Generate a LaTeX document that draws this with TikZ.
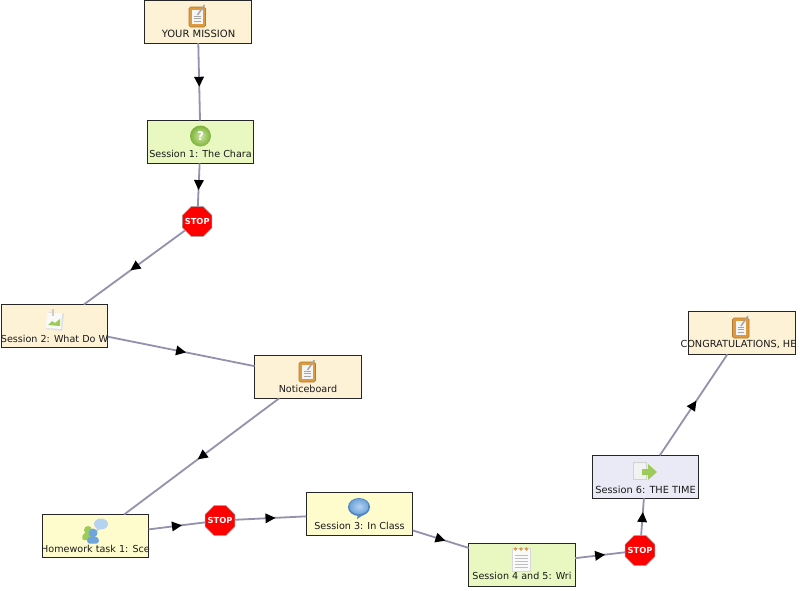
\documentclass[tikz,border=0pt]{standalone}
\usepackage{fontspec}
\setmainfont{DejaVu Sans}
\usetikzlibrary{arrows.meta,decorations.markings,shapes.geometric}
\definecolor{boxorange}{HTML}{FDF2D6}
\definecolor{boxgreen}{HTML}{E8F8C0}
\definecolor{boxyellow}{HTML}{FEFBCD}
\definecolor{boxblue}{HTML}{EAEAF6}
\definecolor{linkc}{HTML}{9292AE}
\definecolor{icorange}{HTML}{DE9A3E}
\definecolor{icbrown}{HTML}{B57A30}
\definecolor{icgreen}{HTML}{9CCB5A}
\definecolor{icgreendk}{HTML}{7DB23C}
\definecolor{icgreenlt}{HTML}{CDE89A}
\definecolor{icblue}{HTML}{6FA5DC}
\definecolor{icbluedk}{HTML}{4F86C0}
\definecolor{icbluelt}{HTML}{B5D3F0}
\tikzset{
 box/.style={draw=black!85,line width=0.8pt,minimum width=106.5pt,minimum height=43pt,inner sep=0pt,outer sep=0pt},
 stopsign/.style={regular polygon,regular polygon sides=8,shape border rotate=0,fill=red,draw=black!40,line width=0.5pt,minimum size=32pt,inner sep=0pt,outer sep=0pt},
 stoptext/.style={text=white,inner sep=0pt,font=\bfseries\fontsize{8.3}{8}\selectfont},
 lab/.style={font=\fontsize{9.6}{11}\selectfont,inner sep=0pt,text=black!90},
 labwide/.style={lab,font=\fontsize{10}{11}\selectfont},
 flow/.style={linkc,line width=1.8pt,postaction={decorate},decoration={markings,mark=at position .5 with {\arrow[black,xshift=5pt]{Triangle[length=10pt,width=9.5pt]}}}},
}
\newcommand{\iconclip}[2]{\begin{scope}[shift={(#1,#2)}]
 \fill[rounded corners=1.5pt,fill=icorange,draw=icbrown,line width=.6pt] (-8.5,-10) rectangle (8,10);
 \fill[white!92!gray] (-5.5,-7) -- (5,-7) -- (5,7) -- (-5.5,7) -- cycle;
 \draw[gray!70,line width=.5pt] (-3.5,-1)--(3,-1) (-3.5,1.5)--(3,1.5) (-3.5,4)--(3,4);
 \draw[gray!70,line width=1.5pt] (0,-2)--(7,-12);
\end{scope}}
\newcommand{\iconq}[2]{\begin{scope}[shift={(#1,#2)}]
 \shade[inner color=icgreenlt,outer color=icgreendk] (0,0) circle (10.5);
 \node[text=white,font=\bfseries\fontsize{12}{12}\selectfont,inner sep=0pt] (qmark) at (0,0) {?};
\end{scope}}
\newcommand{\iconimg}[2]{\begin{scope}[shift={(#1,#2)}]
 \fill[gray!25] (-5,-8) -- (10,-6) -- (8,11) -- (-8,9) -- cycle;
 \fill[white!95!gray] (-7,-7) -- (8,-7) -- (7,9) -- (-8,8) -- cycle;
 \fill[icgreen] (-6,5) -- (-2,1) -- (1,3) -- (6,-1) -- (6,6) -- (-6,5) -- cycle;
 \fill[gray!40] (-2.5,-11) rectangle (0,-4);
\end{scope}}
\newcommand{\iconpeople}[2]{\begin{scope}[shift={(#1,#2)}]
 \fill[icbluelt] (6,-5) ellipse (7 and 5.5);
 \fill[icbluelt] (2,-2) -- (1,3) -- (6,-1) -- cycle;
 \fill[icgreen] (-7,1) circle (4);
 \fill[icgreen,rounded corners=2pt] (-13,11) -- (-12,4) -- (-3,4) -- (-3,11) -- cycle;
 \fill[icblue] (-2,4) circle (4.5);
 \fill[icblue,rounded corners=2.5pt] (-8,14.5) -- (-7.5,8) -- (3.5,8) -- (4,14.5) -- cycle;
\end{scope}}
\newcommand{\iconbubble}[2]{\begin{scope}[shift={(#1,#2)}]
 \fill[icbluedk] (-1,7) -- (-2,12) -- (4,8) -- cycle;
 \fill[icbluedk] (0,0) ellipse (11 and 9);
 \shade[inner color=icbluelt,outer color=icblue] (0,-.5) ellipse (9.6 and 7.6);
\end{scope}}
\newcommand{\iconnote}[2]{\begin{scope}[shift={(#1,#2)}]
 \fill[white!96!gray,draw=gray!30,line width=.6pt] (-9,-10) rectangle (9,13);
 \draw[gray!50,line width=.6pt] (-6.5,-3)--(6.5,-3) (-6.5,0)--(6.5,0) (-6.5,3)--(6.5,3) (-6.5,6)--(6.5,6) (-6.5,9)--(6.5,9);
 \fill[icorange] (-5.5,-9) circle (1.9) (0,-9) circle (1.9) (5.5,-9) circle (1.9);
\end{scope}}
\newcommand{\icongo}[2]{\begin{scope}[shift={(#1,#2)}]
 \fill[gray!10,draw=gray!35,line width=.6pt] (-12,-10) rectangle (1,7);
 \fill[icgreen] (-3,-3) -- (3,-3) -- (3,-8) -- (12,0) -- (3,8) -- (3,3) -- (-3,3) -- cycle;
\end{scope}}
\begin{document}
\begin{tikzpicture}[x=1pt,y=-1pt]
\useasboundingbox (0,0) rectangle (800,590);
\fill[white] (0,0) rectangle (800,590);
% boxes
\node[box,fill=boxorange] (mission) at (197.8,21.7) {};
\node[box,fill=boxgreen] (s1) at (200.5,141.9) {};
\node[stopsign] (stop1) at (197.2,221.5) {};
\node[box,fill=boxorange] (s2) at (54.5,326) {};
\node[box,fill=boxorange] (notice) at (307.8,376.8) {};
\node[box,fill=boxyellow] (hw) at (95.5,536) {};
\node[stopsign] (stop2) at (220,520.5) {};
\node[box,fill=boxyellow] (s3) at (359.5,513.8) {};
\node[box,fill=boxgreen] (s4) at (521.8,564.5) {};
\node[stopsign] (stop3) at (640,550.5) {};
\node[box,fill=boxblue] (s6) at (645.5,476.8) {};
\node[box,fill=boxorange] (congrats) at (741.8,332.8) {};
\node[stoptext] (st1) at (stop1) {STOP};
\node[stoptext] (st2) at (stop2) {STOP};
\node[stoptext] (st3) at (stop3) {STOP};
% connectors
\draw[flow] (mission) -- (s1);
\draw[flow] (s1) -- (stop1);
\draw[flow] (stop1) -- (s2);
\draw[flow] (s2) -- (notice);
\draw[flow] (notice) -- (hw);
\draw[flow] (hw) -- (stop2);
\draw[flow] (stop2) -- (s3);
\draw[flow] (s3) -- (s4);
\draw[flow] (s4) -- (stop3);
\draw[flow] (stop3) -- (s6);
\draw[flow] (s6) -- (congrats);
% icons
\iconclip{197.5}{17}
\iconq{200.5}{136}
\iconimg{54}{320}
\iconclip{307.5}{372}
\iconpeople{95}{529}
\iconbubble{359}{507}
\iconnote{521}{558}
\icongo{645}{472}
\iconclip{741}{328}
% labels
\node[labwide] (t1) at (198.5,34.3) {YOUR MISSION};
\node[lab] (t2) at (200.5,154) {Session 1: The Chara};
\begin{scope}\clip (1.5,325) rectangle (107.5,348);
\node[lab] (t3) at (54.5,338.5) {Session 2: What Do W};
\end{scope}
\node[lab] (t4) at (308,388.5) {Noticeboard};
\begin{scope}\clip (42.5,525) rectangle (150,556);
\node[lab] (t5) at (95.5,548.5) {Homework task 1: Sce};
\end{scope}
\node[lab] (t6) at (359.5,525.5) {Session 3: In Class};
\node[lab] (t7) at (522,576) {Session 4 and 5: Wri};
\node[lab,font=\fontsize{9.8}{11}\selectfont] (t8) at (645.5,489.5) {Session 6: THE TIME};
\begin{scope}\clip (670,335) rectangle (795.5,352);
\node[lab,anchor=west,font=\fontsize{9.75}{11}\selectfont] (t9) at (680.3,344.6) {CONGRATULATIONS, HER};
\end{scope}
\end{tikzpicture}
\end{document}
